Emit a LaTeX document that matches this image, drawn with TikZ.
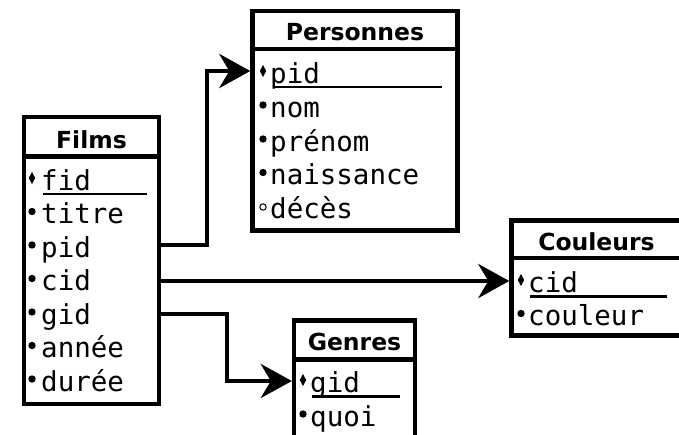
\documentclass[tikz,border=0pt]{standalone}
\usepackage{fontspec}
\setmainfont{DejaVu Sans}
\newfontfamily\monof{DejaVu Sans Mono}
\usetikzlibrary{arrows.meta}
\tikzset{
  tbl/.style={draw=black, line width=4.5pt, fill=white, inner sep=0pt, outer sep=0pt, anchor=north west},
  hline/.style={line width=4.5pt},
  ttl/.style={font=\fontsize{23.5}{23.5}\selectfont\bfseries, inner sep=0pt, anchor=base},
  row/.style={font=\fontsize{27.5}{27.5}\selectfont\monof, inner sep=0pt, anchor=base west},
  uline/.style={line width=2.4pt},
  odot/.style={draw=black, line width=1pt},
  arr/.style={line width=4.5pt, -{Stealth[length=31pt,width=34pt,inset=10pt]}, shorten >=2.2pt}
}
\newcommand{\kdiam}[2]{\fill (#1,#2-18) -- ++(3.2,6) -- ++(-3.2,6) -- ++(-3.2,-6) -- cycle;}
\newcommand{\kdot}[2]{\fill (#1,#2-12) circle (3.7);}
\newcommand{\kodot}[2]{\draw[odot] (#1,#2-11) circle (3.2);}
\begin{document}
\begin{tikzpicture}[x=1pt,y=-1pt]
\useasboundingbox (0,0) rectangle (679,434);
\clip (0,0) rectangle (679,434);
% Films
\node[tbl, minimum width=135pt, minimum height=287pt] (films) at (24,117) {};
\draw[hline] (films.west |- 0,156.5) -- (films.east |- 0,156.5);
\node[ttl] (filmsT) at (91.5,148) {Films};
\node[row] (ffid) at (41,190) {fid};
\node[row] (ftitre) at (41,223.5) {titre};
\node[row] (fpid) at (41,257) {pid};
\node[row] (fcid) at (41,290.5) {cid};
\node[row] (fgid) at (41,324) {gid};
\node[row] (fannee) at (41,357.5) {année};
\node[row] (fduree) at (41,391) {durée};
\draw[uline] (43,194) -- (147,194);
\kdiam{32}{190}
\foreach \y in {223.5,257,290.5,324,357.5,391} {\kdot{32}{\y}}
% Personnes
\node[tbl, minimum width=205pt, minimum height=219.5pt] (pers) at (252.5,11) {};
\draw[hline] (pers.west |- 0,49) -- (pers.east |- 0,49);
\node[ttl] (persT) at (355,40) {Personnes};
\node[row] (ppid) at (270,83) {pid};
\node[row] (pnom) at (270,117) {nom};
\node[row] (pprenom) at (270,151) {prénom};
\node[row] (pnaiss) at (270,184.5) {naissance};
\node[row] (pdeces) at (270,218) {décès};
\draw[uline] (273,86.7) -- (442,86.7);
\kdiam{263}{83}
\foreach \y in {117,151,184.5} {\kdot{263}{\y}}
\kodot{263}{218}
% Couleurs
\node[tbl, minimum width=170pt, minimum height=115pt] (coul) at (511.5,220.5) {};
\draw[hline] (coul.west |- 0,258) -- (coul.east |- 0,258);
\node[ttl] (coulT) at (596.5,250) {Couleurs};
\node[row] (ccid) at (528,292) {cid};
\node[row] (ccoul) at (528,325.5) {couleur};
\draw[uline] (530,296.5) -- (667,296.5);
\kdiam{521}{292}
\kdot{521}{325.5}
% Genres
\node[tbl, minimum width=121pt, minimum height=130pt] (genres) at (294,320.5) {};
\draw[hline] (genres.west |- 0,359.5) -- (genres.east |- 0,359.5);
\node[ttl] (genresT) at (354.5,350) {Genres};
\node[row] (ggid) at (310,392) {gid};
\node[row] (gquoi) at (310,426) {quoi};
\draw[uline] (312,396.5) -- (400,396.5);
\kdiam{303}{392}
\kdot{303}{426}
% connectors
\draw[arr] (films.east |- 0,245) -- (207,245) |- (pers.west |- 0,71);
\draw[arr] (films.east |- 0,281) -- (coul.west |- 0,281);
\draw[arr] (films.east |- 0,314) -- (227,314) |- (genres.west |- 0,381);
\end{tikzpicture}
\end{document}
